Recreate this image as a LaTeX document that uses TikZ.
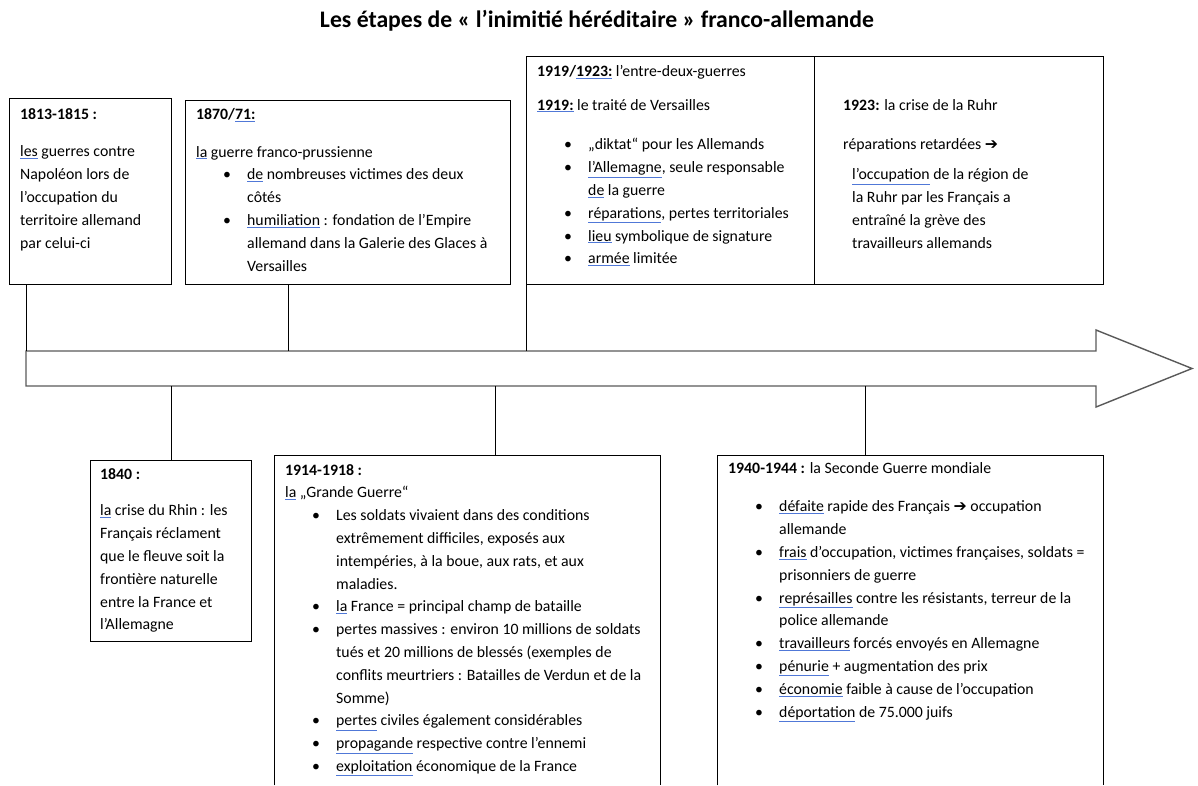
\documentclass[tikz,border=0pt]{standalone}
\usepackage{fontspec}
\setmainfont{Carlito}
\newfontfamily\symfont{DejaVu Sans}
\usetikzlibrary{positioning}

\definecolor{spellblue}{RGB}{80,120,215}
\newcommand\squig[1]{\textcolor{spellblue}{\underline{\textcolor{black}{#1}}}}
\newcommand\bul{\makebox[51pt][l]{\hspace{27pt}\textbullet}}
\newcommand\cont{\hspace*{51pt}}
\newcommand\darr{{\symfont ➔}}

\begin{document}
\begin{tikzpicture}[x=1pt, y=-1pt,
	box/.style = {draw, line width=0.9pt, anchor=north west, inner sep=0pt},
	openbox/.style = {anchor=north west, inner sep=0pt},
	txt/.style = {align=left, inner sep=0pt, font=\fontsize{15.8}{22.8}\selectfont},
	link/.style = {line width=0.7pt},
	timeline/.style = {draw=black!65, line width=1.4pt, line join=miter},
]
\useasboundingbox (0,0) rectangle (1198,785);

\node [font=\fontsize{23.7}{26}\selectfont\bfseries] (title) at (597,21)
	{Les étapes de « l’inimitié héréditaire » franco-allemande};

% the time arrow
\coordinate (atl) at (26,351);
\coordinate (abl) at (26,386);
\coordinate (tip) at (1192,368.5);
\draw [timeline] (atl) -- (1096,351) -- (1096,330) -- (tip)
	-- (1096,407) -- (1096,386) -- (abl) -- cycle;

% boxes above
\node [box, minimum width=162, minimum height=186] (bA) at (9,98) {};
\node [box, minimum width=325, minimum height=184] (bB) at (185,100) {};
\node [box, minimum width=288, minimum height=228] (bC1) at (526,56) {};
\node [box, minimum width=289, minimum height=228] (bC2) at (814,56) {};

% boxes below
\node [box, minimum width=161, minimum height=181] (bD) at (90,460) {};
\node [openbox, minimum width=386, minimum height=330] (bE) at (274,455) {};
\node [openbox, minimum width=386, minimum height=330] (bF) at (717,455) {};
\draw [line width=0.9pt] (bE.south west) -- (bE.north west) -- (bE.north east) -- (bE.south east);
\draw [line width=0.9pt] (bF.south west) -- (bF.north west) -- (bF.north east) -- (bF.south east);

% texts
\node [txt, below right=10pt and 11pt of bA.north west] (tA)
	{\textbf{1813-1815 :}\\[15pt]\squig{les} guerres contre\\Napoléon lors de\\l’occupation du\\territoire allemand\\par celui-ci};
\node [txt, below right=8pt and 11pt of bB.north west] (tB)
	{\textbf{1870/\squig{71:}}\\[15pt]\squig{la} guerre franco-prussienne\\
	\bul\squig{de} nombreuses victimes des deux\\\cont côtés\\
	\bul\squig{humiliation} : fondation de l’Empire\\\cont allemand dans la Galerie des Glaces à\\\cont Versailles};
\node [txt, below right=9pt and 11pt of bC1.north west] (tC1)
	{\textbf{1919/\squig{1923:}} l’entre-deux-guerres\\[11pt]\textbf{\squig{1919:}} le traité de Versailles\\[17pt]
	\bul„diktat“ pour les Allemands\\
	\bul\squig{l’Allemagne}, seule responsable\\\cont\squig{de} la guerre\\
	\bul\squig{réparations}, pertes territoriales\\
	\bul\squig{lieu} symbolique de signature\\
	\bul\squig{armée} limitée};
\node [txt, below right=43pt and 29pt of bC2.north west] (tC2)
	{\textbf{1923:} la crise de la Ruhr\\[17pt]réparations retardées \darr\\[7pt]
	\hspace*{9pt}\squig{l’occupation} de la région de\\\hspace*{9pt}la Ruhr par les Français a\\
	\hspace*{9pt}entraîné la grève des\\\hspace*{9pt}travailleurs allemands};
\node [txt, below right=8pt and 10pt of bD.north west] (tD)
	{\textbf{1840 :}\\[14pt]\squig{la} crise du Rhin : les\\Français réclament\\que le fleuve soit la\\frontière naturelle\\entre la France et\\l’Allemagne};
\node [txt, below right=9pt and 11pt of bE.north west] (tE)
	{\textbf{1914-1918 :}\\\squig{la} „Grande Guerre“\\
	\bul Les soldats vivaient dans des conditions\\\cont extrêmement difficiles, exposés aux\\\cont intempéries, à la boue, aux rats, et aux\\\cont maladies.\\
	\bul\squig{la} France = principal champ de bataille\\
	\bul pertes massives : environ 10 millions de soldats\\\cont tués et 20 millions de blessés (exemples de\\\cont conflits meurtriers : Batailles de Verdun et de la\\\cont Somme)\\
	\bul\squig{pertes} civiles également considérables\\
	\bul\squig{propagande} respective contre l’ennemi\\
	\bul\squig{exploitation} économique de la France};
\node [txt, below right=7pt and 11pt of bF.north west] (tF)
	{\textbf{1940-1944 :} la Seconde Guerre mondiale\\[16pt]
	\bul\squig{défaite} rapide des Français \darr{} occupation\\\cont allemande\\
	\bul\squig{frais} d’occupation, victimes françaises, soldats =\\\cont prisonniers de guerre\\
	\bul\squig{représailles} contre les résistants, terreur de la\\\cont police allemande\\
	\bul\squig{travailleurs} forcés envoyés en Allemagne\\
	\bul\squig{pénurie} + augmentation des prix\\
	\bul\squig{économie} faible à cause de l’occupation\\
	\bul\squig{déportation} de 75.000 juifs};

% connectors to the arrow
\coordinate (cB) at ([xshift=103pt]bB.south west);
\coordinate (cE) at ([xshift=221pt]bE.north west);
\coordinate (cF) at ([xshift=148pt]bF.north west);
\draw [link] (atl |- bA.south) -- (atl);
\draw [link] (cB) -- (cB |- atl);
\draw [link] (bC1.south west) -- (bC1.south west |- atl);
\draw [link] (bD.north) -- (bD.north |- abl);
\draw [link] (cE) -- (cE |- abl);
\draw [link] (cF) -- (cF |- abl);
\end{tikzpicture}
\end{document}
